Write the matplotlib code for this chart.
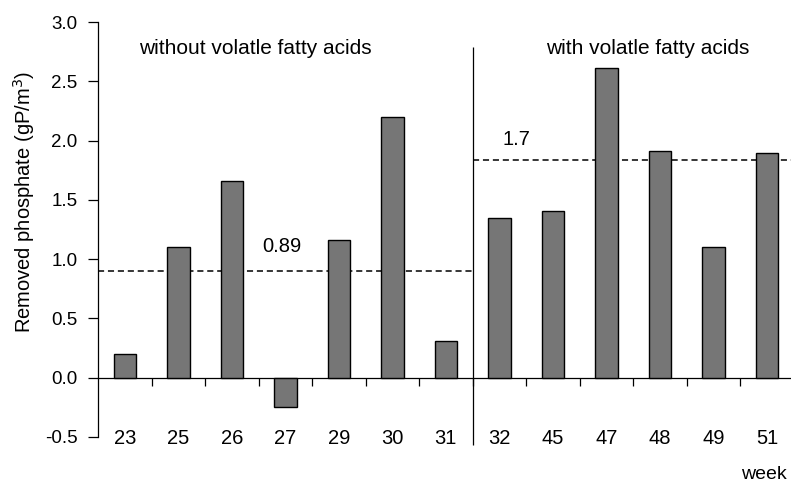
import numpy as np
import matplotlib
matplotlib.use("Agg")
import matplotlib.pyplot as plt

plt.rcParams['font.family'] = ['Liberation Sans', 'DejaVu Sans']

weeks = ["23", "25", "26", "27", "29", "30", "31", "32", "45", "47", "48", "49", "51"]
removed_p = [0.20, 1.10, 1.66, -0.25, 1.16, 2.20, 0.31, 1.35, 1.41, 2.61, 1.91, 1.10, 1.90]
mean_levels = [0.90, 1.84]
mean_labels = ["0.89", "1.7"]
group_titles = ["without volatle fatty acids", "with volatle fatty acids"]
n_without = 7

fig = plt.figure(figsize=(7.91, 4.82), dpi=100)
ax = fig.add_axes([0.124, 0.0934, 0.876, 0.8606])

x = np.arange(len(weeks))
ax.bar(x, removed_p, width=0.42, color="#767676", edgecolor="black", linewidth=1.0, zorder=3)

ax.set_xlim(-0.5, 12.45)
ax.set_ylim(-0.5, 3.0)

# spines
ax.spines['top'].set_visible(False)
ax.spines['right'].set_visible(False)
ax.spines['bottom'].set_position(('data', 0))
ax.spines['left'].set_linewidth(0.9)
ax.spines['bottom'].set_linewidth(0.9)

ax.set_yticks(np.arange(-0.5, 3.01, 0.5))
ax.set_yticklabels([f"{v:.1f}" for v in np.arange(-0.5, 3.01, 0.5)], fontsize=13.5)
ax.tick_params(axis='y', direction='out', length=7, width=0.9, pad=8)

ax.set_xticks(x)
ax.set_xticklabels(weeks, fontsize=14.5)
ax.tick_params(axis='x', which='major', length=0, pad=37)
ax.set_xticks(x[:-1] + 0.5, minor=True)
ax.tick_params(axis='x', which='minor', direction='out', length=6, width=0.9)

ax.set_ylabel("Removed phosphate (gP/m$^3$)", fontsize=14.5)
ax.yaxis.set_label_coords(-0.088, 0.566)

# divider between groups
split = n_without - 0.5
ax.vlines(split, -0.57, 2.79, color="black", linewidth=0.9, clip_on=False, zorder=4)

# mean lines
ax.hlines(mean_levels[0], -0.5, split, colors="black", linestyles=(0, (4, 2.5)), linewidth=1.1, zorder=2)
ax.hlines(mean_levels[1], split, 12.45, colors="black", linestyles=(0, (4, 2.5)), linewidth=1.1, zorder=2)
ax.text(2.94, 1.11, mean_labels[0], ha="center", va="center", fontsize=14.5)
ax.text(7.32, 2.01, mean_labels[1], ha="center", va="center", fontsize=14.5)

ax.text(2.44, 2.78, group_titles[0], ha="center", va="center", fontsize=15)
ax.text(9.78, 2.78, group_titles[1], ha="center", va="center", fontsize=15)

ax.text(11.95, -0.82, "week", ha="center", va="center", fontsize=14, clip_on=False)

fig.savefig("out.png", dpi=100)
